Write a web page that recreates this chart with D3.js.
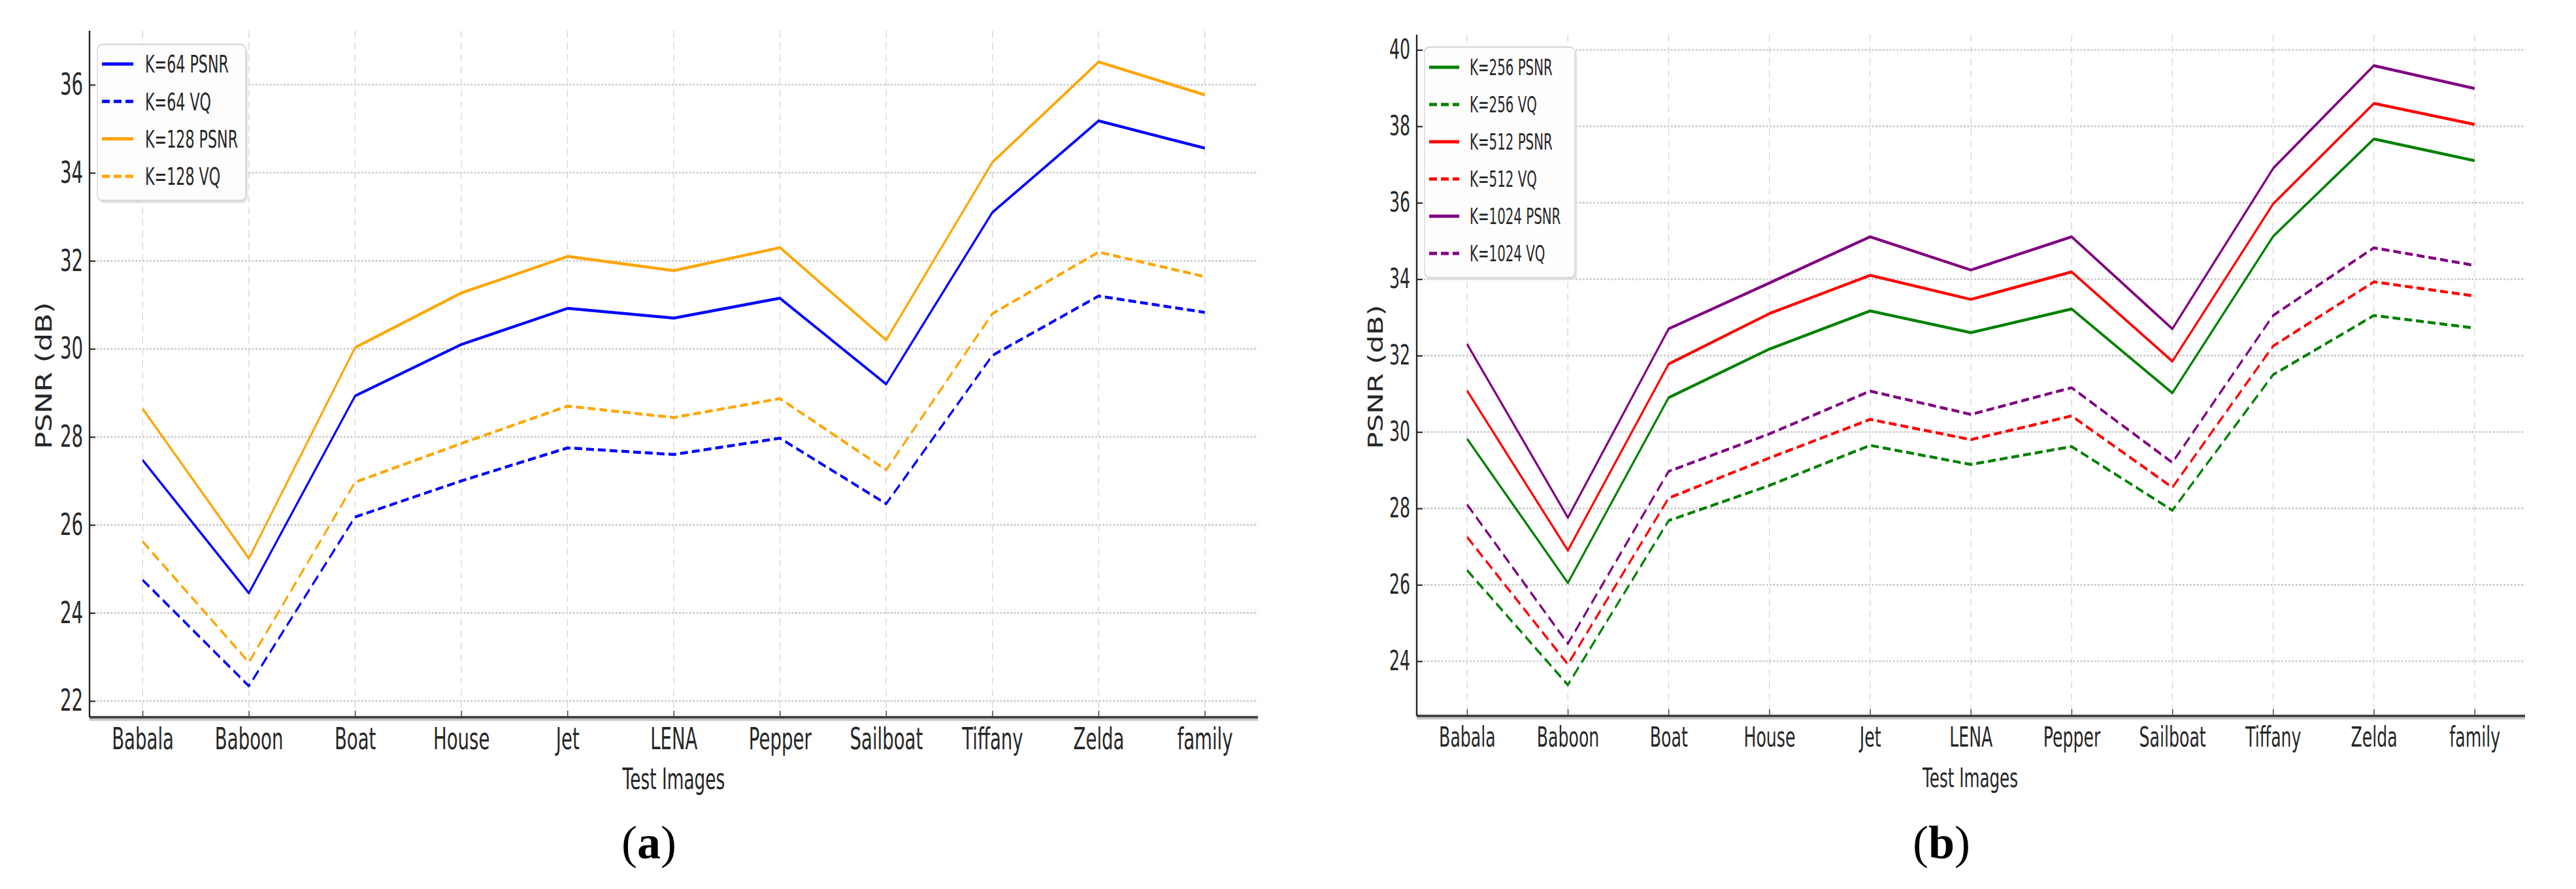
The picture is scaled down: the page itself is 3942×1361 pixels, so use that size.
<!DOCTYPE html>
<html>
<head>
<meta charset="utf-8">
<script src="https://cdn.jsdelivr.net/npm/d3@7"></script>
<style>
  body { margin: 0; background: #fff; }
  text { font-family: "DejaVu Sans", sans-serif; }
  text.caption { font-family: "Liberation Serif", serif; }
</style>
</head>
<body>
<div id="chart"></div>
<script>
const W = 3942, H = 1361;

const images = ["Babala", "Baboon", "Boat", "House", "Jet", "LENA", "Pepper", "Sailboat", "Tiffany", "Zelda", "family"];

// panel (a)
const k64Psnr  = [27.47, 24.45, 28.93, 30.10, 30.92, 30.70, 31.15, 29.20, 33.10, 35.18, 34.56];
const k64Vq    = [24.75, 22.34, 26.18, 27.00, 27.75, 27.60, 27.97, 26.48, 29.85, 31.20, 30.83];
const k128Psnr = [28.64, 25.24, 30.03, 31.27, 32.10, 31.78, 32.30, 30.20, 34.24, 36.52, 35.77];
const k128Vq   = [25.62, 22.88, 26.97, 27.85, 28.70, 28.44, 28.87, 27.25, 30.80, 32.20, 31.64];

// panel (b)
const k256Psnr  = [29.82, 26.05, 30.90, 32.17, 33.17, 32.60, 33.22, 31.02, 35.12, 37.67, 37.10];
const k256Vq    = [26.38, 23.38, 27.68, 28.60, 29.65, 29.15, 29.62, 27.95, 31.50, 33.05, 32.72];
const k512Psnr  = [31.08, 26.90, 31.78, 33.10, 34.10, 33.47, 34.19, 31.85, 35.97, 38.60, 38.05];
const k512Vq    = [27.25, 23.92, 28.27, 29.32, 30.33, 29.80, 30.42, 28.55, 32.25, 33.93, 33.56];
const k1024Psnr = [32.30, 27.76, 32.70, 33.90, 35.11, 34.24, 35.11, 32.70, 36.90, 39.59, 38.99];
const k1024Vq   = [28.10, 24.46, 28.97, 29.95, 31.07, 30.46, 31.16, 29.20, 33.05, 34.82, 34.36];

const yTicksA = [22, 24, 26, 28, 30, 32, 34, 36];
const yTicksB = [24, 26, 28, 30, 32, 34, 36, 38, 40];

// the original figure is squeezed sideways, so each panel is drawn in a
// wider frame and scaled back down on x
const SX = 0.6;
const ix = v => v / SX;

const svg = d3.select("#chart")
  .append("svg")
  .attr("width", W)
  .attr("height", H);

svg.append("rect").attr("width", W).attr("height", H).attr("fill", "#fff");

function drawPanel(p) {
  const g = svg.append("g").attr("transform", `scale(${SX},1)`);

  const x = d3.scalePoint().domain(images).range([ix(p.left), ix(p.right)]).padding(0.5);
  const all = p.series.flatMap(s => s.values);
  const lo = d3.min(all), hi = d3.max(all), m = (hi - lo) * 0.05;
  const y = d3.scaleLinear().domain([lo - m, hi + m]).range([p.bottom, p.top]);

  // grid
  g.append("g").selectAll("line").data(p.yTicks).join("line")
    .attr("x1", ix(p.left)).attr("x2", ix(p.right))
    .attr("y1", d => y(d)).attr("y2", d => y(d))
    .attr("stroke", "#cbcbcb").attr("stroke-width", 2.6)
    .attr("stroke-dasharray", "5,4");
  g.append("g").selectAll("line").data(images).join("line")
    .attr("x1", d => x(d)).attr("x2", d => x(d))
    .attr("y1", p.top).attr("y2", p.bottom)
    .attr("stroke", "#d6d6d6").attr("stroke-width", 2.2)
    .attr("stroke-dasharray", "11,7");

  // series
  const line = d3.line().x((d, i) => x(images[i])).y(d => y(d));
  g.append("g").selectAll("path").data(p.series).join("path")
    .attr("d", s => line(s.values))
    .attr("fill", "none")
    .attr("stroke", s => s.color)
    .attr("stroke-width", 4.5)
    .attr("stroke-linejoin", "round")
    .attr("stroke-dasharray", s => s.dashed ? "20,10" : null);

  // axes
  const xAxis = g.append("g")
    .attr("transform", `translate(0,${p.bottom})`)
    .call(d3.axisBottom(x).tickSizeInner(-10).tickSizeOuter(0).tickPadding(p.xPad));
  const yAxis = g.append("g")
    .attr("transform", `translate(${ix(p.left)},0)`)
    .call(d3.axisLeft(y).tickValues(p.yTicks).tickFormat(d3.format("d"))
      .tickSizeInner(-ix(9)).tickSizeOuter(0).tickPadding(ix(10)));

  [xAxis, yAxis].forEach(a => {
    a.select(".domain").remove();
    a.selectAll(".tick line").attr("stroke", "#333").attr("stroke-width", 2.2);
    a.selectAll("text")
      .attr("font-size", p.tickFont)
      .attr("fill", "#262626");
  });

  // spines
  g.append("line")
    .attr("x1", ix(p.left)).attr("x2", ix(p.right))
    .attr("y1", p.bottom + 2).attr("y2", p.bottom + 2)
    .attr("stroke", "#c4c4c4").attr("stroke-width", 7);
  g.append("line")
    .attr("x1", ix(p.left)).attr("x2", ix(p.right))
    .attr("y1", p.bottom).attr("y2", p.bottom)
    .attr("stroke", "#3a3a3a").attr("stroke-width", 3.6);
  g.append("line")
    .attr("x1", ix(p.left)).attr("x2", ix(p.left))
    .attr("y1", p.top).attr("y2", p.bottom)
    .attr("stroke", "#222").attr("stroke-width", 4);

  // x label
  g.append("text")
    .attr("x", ix(p.xLabelX)).attr("y", p.xLabelY)
    .attr("text-anchor", "middle")
    .attr("font-size", p.labelFont)
    .attr("fill", "#262626")
    .text("Test Images");

  // legend
  const L = p.legend;
  const lg = g.append("g");
  lg.append("rect")
    .attr("x", ix(L.x + 3)).attr("y", L.y + 4)
    .attr("width", ix(L.w)).attr("height", L.h)
    .attr("rx", ix(8)).attr("ry", 8)
    .attr("fill", "#e2e2e2");
  lg.append("rect")
    .attr("x", ix(L.x)).attr("y", L.y)
    .attr("width", ix(L.w)).attr("height", L.h)
    .attr("rx", ix(8)).attr("ry", 8)
    .attr("fill", "#fff").attr("fill-opacity", 0.92)
    .attr("stroke", "#d8d8d8").attr("stroke-width", 2.4);

  const rows = lg.selectAll("g.row").data(p.series).join("g")
    .attr("class", "row")
    .attr("transform", (d, i) => `translate(0,${L.row0 + i * L.step})`);
  rows.append("line")
    .attr("x1", ix(L.lineX1)).attr("x2", ix(L.lineX2))
    .attr("stroke", d => d.color).attr("stroke-width", 5)
    .attr("stroke-dasharray", d => d.dashed ? "20,10" : null);
  rows.append("text")
    .attr("x", ix(L.textX)).attr("dy", "0.36em")
    .attr("font-size", L.font)
    .attr("fill", "#262626")
    .text(d => d.name);

  // y label, drawn outside the squeezed frame
  svg.append("text")
    .attr("transform", `translate(${p.yLabelX},${p.yLabelY}) rotate(-90)`)
    .attr("text-anchor", "middle")
    .attr("dy", "0.36em")
    .attr("font-size", p.yLabelFont)
    .attr("textLength", p.yLabelLen)
    .attr("lengthAdjust", "spacingAndGlyphs")
    .attr("fill", "#262626")
    .text("PSNR (dB)");

  // sub-figure caption
  const cap = svg.append("text")
    .attr("class", "caption")
    .attr("x", p.capX).attr("y", 1314)
    .attr("text-anchor", "middle")
    .attr("font-size", 72)
    .attr("fill", "#000");
  cap.append("tspan").text("(");
  cap.append("tspan").attr("font-weight", "bold").text(p.capLetter);
  cap.append("tspan").text(")");
}

drawPanel({
  left: 137, right: 1925, top: 47, bottom: 1098,
  yTicks: yTicksA, tickFont: 46, xPad: 16, labelFont: 44,
  xLabelX: 1031, xLabelY: 1208,
  yLabelX: 67, yLabelY: 575, yLabelLen: 225, yLabelFont: 34,
  capX: 993, capLetter: "a",
  legend: { x: 149, y: 68, w: 227, h: 239, row0: 98, step: 57.3, lineX1: 156, lineX2: 204, textX: 222, font: 37 },
  series: [
    { name: "K=64 PSNR", values: k64Psnr, color: "#0000ff", dashed: false },
    { name: "K=64 VQ", values: k64Vq, color: "#0000ff", dashed: true },
    { name: "K=128 PSNR", values: k128Psnr, color: "#ffa500", dashed: false },
    { name: "K=128 VQ", values: k128Vq, color: "#ffa500", dashed: true }
  ]
});

drawPanel({
  left: 2168, right: 3864, top: 53, bottom: 1096,
  yTicks: yTicksB, tickFont: 42, xPad: 17, labelFont: 41,
  xLabelX: 3015, xLabelY: 1205,
  yLabelX: 2104, yLabelY: 577, yLabelLen: 221, yLabelFont: 32,
  capX: 2971, capLetter: "b",
  legend: { x: 2180, y: 72, w: 230, h: 353, row0: 103, step: 57, lineX1: 2187, lineX2: 2233, textX: 2249, font: 33 },
  series: [
    { name: "K=256 PSNR", values: k256Psnr, color: "#008000", dashed: false },
    { name: "K=256 VQ", values: k256Vq, color: "#008000", dashed: true },
    { name: "K=512 PSNR", values: k512Psnr, color: "#ff0000", dashed: false },
    { name: "K=512 VQ", values: k512Vq, color: "#ff0000", dashed: true },
    { name: "K=1024 PSNR", values: k1024Psnr, color: "#800080", dashed: false },
    { name: "K=1024 VQ", values: k1024Vq, color: "#800080", dashed: true }
  ]
});
</script>
</body>
</html>
